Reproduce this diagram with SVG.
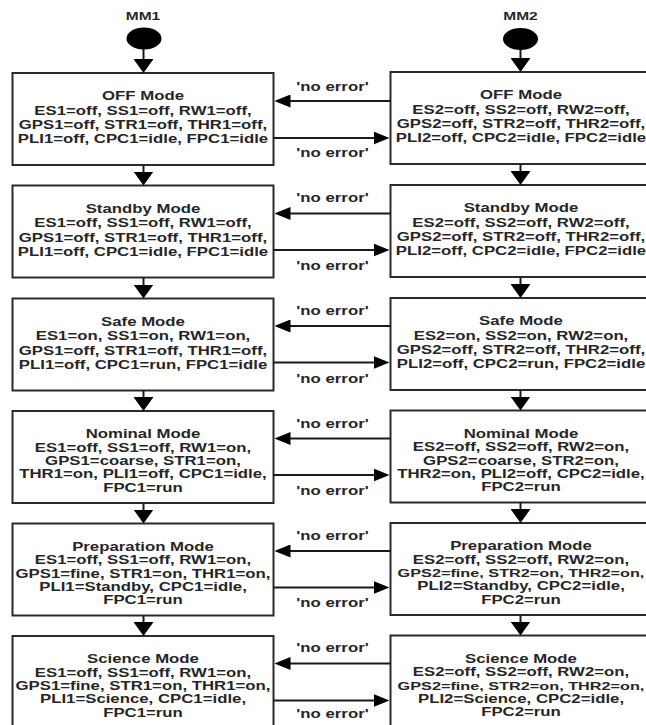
<svg xmlns="http://www.w3.org/2000/svg" width="646" height="725" viewBox="0 0 646 725">
<style>
  .box { fill: #fff; stroke: #2a2a2a; stroke-width: 2; }
  .t { font-family: "Liberation Sans", Arial, sans-serif; font-weight: bold; font-size: 12px; fill: #262626; text-anchor: middle; }
  .t.n { font-size: 11.6px; }
  .mm { font-family: "Liberation Sans", Arial, sans-serif; font-weight: bold; font-size: 10px; fill: #262626; text-anchor: middle; }
  .c { stroke: #1a1a1a; stroke-width: 2; fill: none; }
  .start { fill: #000; }
</style>
<defs>
  <marker id="ah" markerUnits="userSpaceOnUse" markerWidth="16" markerHeight="13" refX="8" refY="6.5" orient="auto">
    <path d="M0,0 L16,6.5 L0,13 z" fill="#000"/>
  </marker>
  <marker id="av" markerUnits="userSpaceOnUse" markerWidth="14" markerHeight="20" refX="7" refY="10" orient="auto">
    <path d="M0,0 L14,10 L0,20 z" fill="#000"/>
  </marker>
</defs>

<g id="start1"><ellipse class="start" cx="144" cy="38.5" rx="17.5" ry="11"/><g transform="translate(143 20) scale(1.55 1)"><text class="mm" x="0" y="0">MM1</text></g></g>
<g id="start2"><ellipse class="start" cx="520.5" cy="39" rx="17.5" ry="11"/><g transform="translate(520.5 20) scale(1.55 1)"><text class="mm" x="0" y="0">MM2</text></g></g>

<!-- Left column nodes -->
<g id="off1"><rect class="box" x="12.5" y="73" width="261" height="92"/>
<g transform="translate(143 0) scale(1.4 1)"><text class="t" y="100.3">OFF Mode</text><text class="t" y="114.6">ES1=off, SS1=off, RW1=off,</text><text class="t" y="128.9">GPS1=off, STR1=off, THR1=off,</text><text class="t" y="143.2">PLI1=off, CPC1=idle, FPC1=idle</text></g></g>
<g id="standby1"><rect class="box" x="12.5" y="185.5" width="261" height="92"/>
<g transform="translate(143 0) scale(1.4 1)"><text class="t" y="213">Standby Mode</text><text class="t" y="227.3">ES1=off, SS1=off, RW1=off,</text><text class="t" y="241.6">GPS1=off, STR1=off, THR1=off,</text><text class="t" y="255.9">PLI1=off, CPC1=idle, FPC1=idle</text></g></g>
<g id="safe1"><rect class="box" x="12.5" y="298.5" width="261" height="92"/>
<g transform="translate(143 0) scale(1.4 1)"><text class="t" y="326">Safe Mode</text><text class="t" y="340.3">ES1=on, SS1=on, RW1=on,</text><text class="t" y="354.6">GPS1=off, STR1=off, THR1=off,</text><text class="t" y="368.9">PLI1=off, CPC1=run, FPC1=idle</text></g></g>
<g id="nominal1"><rect class="box" x="12.5" y="411" width="261" height="92"/>
<g transform="translate(143 0) scale(1.4 1)"><text class="t" y="438.5">Nominal Mode</text><text class="t" y="451.8">ES1=off, SS1=off, RW1=on,</text><text class="t" y="465.1">GPS1=coarse, STR1=on,</text><text class="t" y="478.4">THR1=on, PLI1=off, CPC1=idle,</text><text class="t" y="491.7">FPC1=run</text></g></g>
<g id="prep1"><rect class="box" x="12.5" y="523.5" width="261" height="92"/>
<g transform="translate(143 0) scale(1.4 1)"><text class="t" y="551">Preparation Mode</text><text class="t" y="564.3">ES1=off, SS1=off, RW1=on,</text><text class="t" y="577.6">GPS1=fine, STR1=on, THR1=on,</text><text class="t" y="590.9">PLI1=Standby, CPC1=idle,</text><text class="t" y="604.2">FPC1=run</text></g></g>
<g id="science1"><rect class="box" x="12.5" y="636" width="261" height="92"/>
<g transform="translate(143 0) scale(1.4 1)"><text class="t" y="663.5">Science Mode</text><text class="t" y="676.8">ES1=off, SS1=off, RW1=on,</text><text class="t" y="690.1">GPS1=fine, STR1=on, THR1=on,</text><text class="t" y="703.4">PLI1=Science, CPC1=idle,</text><text class="t" y="716.7">FPC1=run</text></g></g>

<!-- Right column nodes -->
<g id="off2"><rect class="box" x="390.5" y="72" width="261" height="92"/>
<g transform="translate(521 0) scale(1.4 1)"><text class="t" y="99.5">OFF Mode</text><text class="t" y="113.8">ES2=off, SS2=off, RW2=off,</text><text class="t" y="128.1">GPS2=off, STR2=off, THR2=off,</text><text class="t" y="142.4">PLI2=off, CPC2=idle, FPC2=idle</text></g></g>
<g id="standby2"><rect class="box" x="390.5" y="185" width="261" height="92"/>
<g transform="translate(521 0) scale(1.4 1)"><text class="t" y="212.5">Standby Mode</text><text class="t" y="226.8">ES2=off, SS2=off, RW2=off,</text><text class="t" y="241.1">GPS2=off, STR2=off, THR2=off,</text><text class="t" y="255.4">PLI2=off, CPC2=idle, FPC2=idle</text></g></g>
<g id="safe2"><rect class="box" x="390.5" y="298" width="261" height="92"/>
<g transform="translate(521 0) scale(1.4 1)"><text class="t" y="325.5">Safe Mode</text><text class="t" y="339.8">ES2=on, SS2=on, RW2=on,</text><text class="t" y="354.1">GPS2=off, STR2=off, THR2=off,</text><text class="t" y="368.4">PLI2=off, CPC2=run, FPC2=idle</text></g></g>
<g id="nominal2"><rect class="box" x="390.5" y="410.5" width="261" height="92"/>
<g transform="translate(521 0) scale(1.4 1)"><text class="t" y="438">Nominal Mode</text><text class="t" y="451.3">ES2=off, SS2=off, RW2=on,</text><text class="t" y="464.6">GPS2=coarse, STR2=on,</text><text class="t" y="477.9">THR2=on, PLI2=off, CPC2=idle,</text><text class="t" y="491.2">FPC2=run</text></g></g>
<g id="prep2"><rect class="box" x="390.5" y="523" width="261" height="92"/>
<g transform="translate(521 0) scale(1.4 1)"><text class="t" y="550.5">Preparation Mode</text><text class="t" y="563.8">ES2=off, SS2=off, RW2=on,</text><text class="t n" y="577.1">GPS2=fine, STR2=on, THR2=on,</text><text class="t" y="590.4">PLI2=Standby, CPC2=idle,</text><text class="t" y="603.7">FPC2=run</text></g></g>
<g id="science2"><rect class="box" x="390.5" y="635.5" width="261" height="92"/>
<g transform="translate(521 0) scale(1.4 1)"><text class="t" y="663">Science Mode</text><text class="t" y="676.3">ES2=off, SS2=off, RW2=on,</text><text class="t n" y="689.6">GPS2=fine, STR2=on, THR2=on,</text><text class="t" y="702.9">PLI2=Science, CPC2=idle,</text><text class="t" y="716.2">FPC2=run</text></g></g>

<g id="connectors">
  <!-- vertical left -->
  <path class="c" marker-end="url(#av)" d="M143.5,49 V66"/>
  <path class="c" marker-end="url(#av)" d="M143.5,165 V178.5"/>
  <path class="c" marker-end="url(#av)" d="M143.5,277.5 V291.5"/>
  <path class="c" marker-end="url(#av)" d="M143.5,390.5 V404"/>
  <path class="c" marker-end="url(#av)" d="M143.5,503 V516.5"/>
  <path class="c" marker-end="url(#av)" d="M143.5,615.5 V629"/>
  <!-- vertical right -->
  <path class="c" marker-end="url(#av)" d="M520.5,50 V65"/>
  <path class="c" marker-end="url(#av)" d="M520.5,164 V178"/>
  <path class="c" marker-end="url(#av)" d="M520.5,277 V291"/>
  <path class="c" marker-end="url(#av)" d="M520.5,390 V403.5"/>
  <path class="c" marker-end="url(#av)" d="M520.5,502.5 V516"/>
  <path class="c" marker-end="url(#av)" d="M520.5,615 V628.5"/>
  <!-- horizontal: right to left -->
  <path class="c" marker-end="url(#ah)" d="M390.5,101 H282.5"/>
  <path class="c" marker-end="url(#ah)" d="M390.5,213.5 H282.5"/>
  <path class="c" marker-end="url(#ah)" d="M390.5,326 H282.5"/>
  <path class="c" marker-end="url(#ah)" d="M390.5,438.5 H282.5"/>
  <path class="c" marker-end="url(#ah)" d="M390.5,551 H282.5"/>
  <path class="c" marker-end="url(#ah)" d="M390.5,663.5 H282.5"/>
  <!-- horizontal: left to right -->
  <path class="c" marker-end="url(#ah)" d="M273.5,138 H381.5"/>
  <path class="c" marker-end="url(#ah)" d="M273.5,250 H381.5"/>
  <path class="c" marker-end="url(#ah)" d="M273.5,362.5 H381.5"/>
  <path class="c" marker-end="url(#ah)" d="M273.5,475 H381.5"/>
  <path class="c" marker-end="url(#ah)" d="M273.5,587.5 H381.5"/>
  <path class="c" marker-end="url(#ah)" d="M273.5,700.5 H381.5"/>
  <g transform="translate(332.5 0) scale(1.4 1)">
    <text class="t" y="91">'no error'</text>
    <text class="t" y="157">'no error'</text>
    <text class="t" y="202.5">'no error'</text>
    <text class="t" y="270.5">'no error'</text>
    <text class="t" y="315.5">'no error'</text>
    <text class="t" y="383">'no error'</text>
    <text class="t" y="428.5">'no error'</text>
    <text class="t" y="495.5">'no error'</text>
    <text class="t" y="540.5">'no error'</text>
    <text class="t" y="607">'no error'</text>
    <text class="t" y="652.5">'no error'</text>
    <text class="t" y="718.5">'no error'</text>
  </g>
</g>
</svg>
